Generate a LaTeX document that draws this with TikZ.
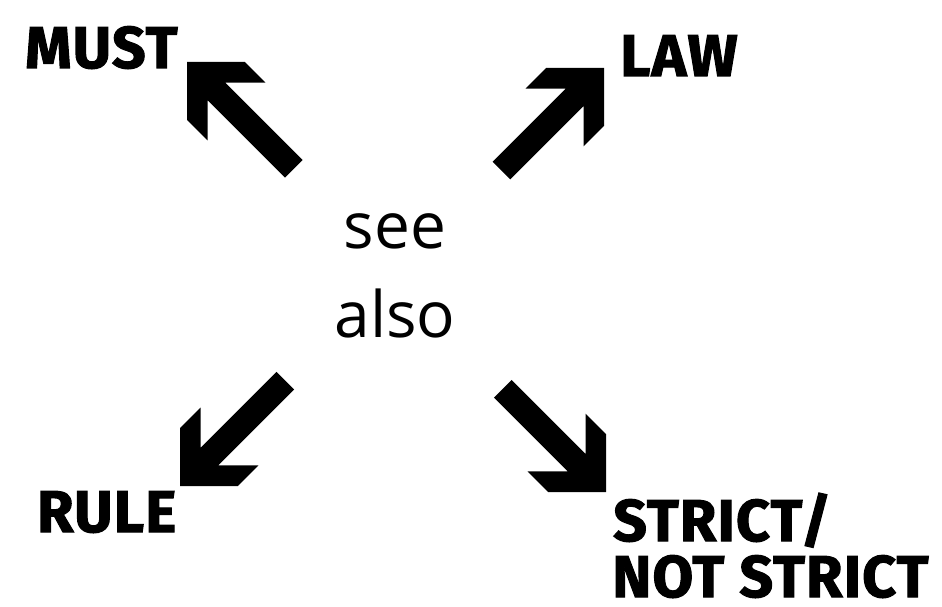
\documentclass[tikz,border=0pt]{standalone}
\usepackage{fontspec}
\newfontfamily\heavyfont{Fira Sans}[FakeBold=1.8,LetterSpace=2]
\newfontfamily\seefont{Open Sans}
\begin{document}
\begin{tikzpicture}[x=1pt,y=-1pt]
\tikzset{
  biglabel/.style={font=\heavyfont\bfseries\fontsize{59}{59}\selectfont, anchor=base west, inner sep=0pt, text=black, text depth=0pt},
  seelabel/.style={font=\seefont\fontsize{64}{64}\selectfont, anchor=base, inner sep=0pt, text=black},
  pics/bigarrow/.style={code={
    \fill[black] (0,0) -- (-41,41) -- (-70,41) -- (-41.5,12.5) -- (-#1,12.5)
      -- (-#1,-12.5) -- (-41.5,-12.5) -- (-70,-41) -- (-41,-41) -- cycle;}}
}
\useasboundingbox[fill=white] (0,0) rectangle (942,607);
% labels
\node[biglabel] (must) at (25,68) {MUST};
\node[biglabel] (law) at (620,76) {LAW};
\node[biglabel] (rule) at (37,532) {RULE};
\node[biglabel] (strict) at (613,541) {STRICT/};
\node[biglabel] (notstrict) at (612,597) {NOT STRICT};
\node[seelabel] (see) at (395,248) {see};
\node[seelabel] (also) at (395,337) {also};
% arrow tips
\coordinate (tipNW) at (187,62);
\coordinate (tipNE) at (604,68);
\coordinate (tipSW) at (180,486);
\coordinate (tipSE) at (606,492);
\pic[rotate=135] at (tipNW) {bigarrow=151};
\pic[rotate=45] at (tipNE) {bigarrow=145};
\pic[rotate=225] at (tipSW) {bigarrow=149};
\pic[rotate=-45] at (tipSE) {bigarrow=146};
\end{tikzpicture}
\end{document}
